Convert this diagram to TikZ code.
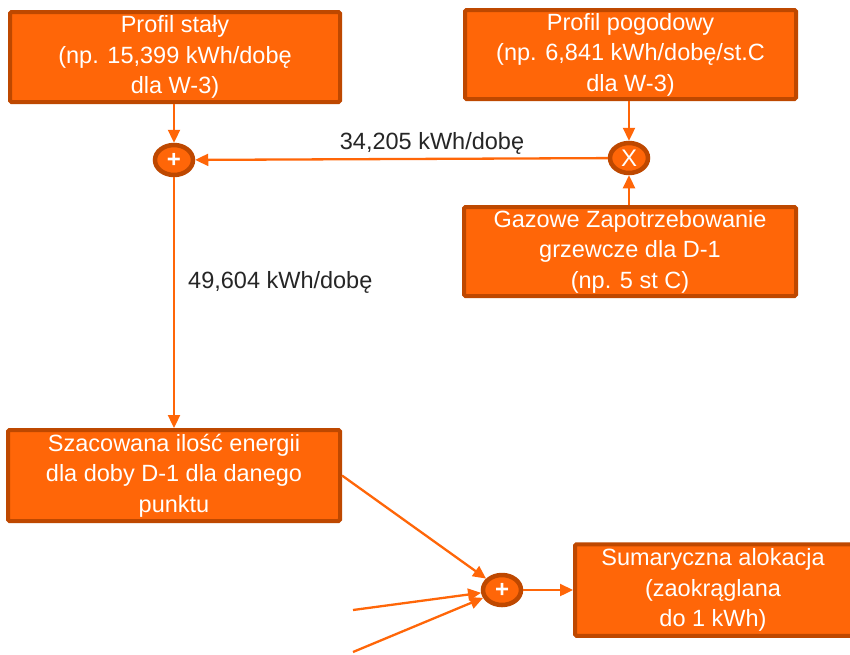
\documentclass[tikz,border=0pt]{standalone}
\usepackage{fontspec}
\setmainfont{Liberation Sans}
\usetikzlibrary{arrows.meta,shapes.geometric}
\definecolor{orfill}{RGB}{255,102,8}
\definecolor{ordark}{RGB}{190,72,0}
\definecolor{lab}{RGB}{38,38,38}
\tikzset{
  box/.style={draw=ordark, line width=4pt, fill=orfill, rounded corners=1.5pt,
    text=white, align=center, inner sep=0pt,
    font=\fontsize{23.5}{30.5}\selectfont},
  opnode/.style={ellipse, draw=ordark, line width=4.5pt, fill=orfill, text=white,
    minimum width=38pt, minimum height=30pt, inner sep=0pt,
    font=\fontsize{24}{24}\selectfont},
  conn/.style={draw=orfill, line width=2.3pt, -{Triangle[length=13pt,width=12pt]}},
  lbl/.style={text=lab, font=\fontsize{23.5}{28}\selectfont, inner sep=0pt}
}
\begin{document}
\begin{tikzpicture}[x=1pt,y=-1pt]
\useasboundingbox (0,0) rectangle (850,654);
\fill[white] (0,0) rectangle (850,654);
\node[box, minimum width=330pt, minimum height=90pt] (stal) at (175,57)
  {Profil stały\\(np. 15,399 kWh/dobę\\dla W-3)};
\node[box, minimum width=331pt, minimum height=89pt] (pogo) at (630.5,54.5)
  {Profil pogodowy\\(np. 6,841 kWh/dobę/st.C\\dla W-3)};
\node[box, minimum width=332pt, minimum height=89pt] (gaz) at (630,251.5)
  {Gazowe Zapotrzebowanie\\grzewcze dla D-1\\(np. 5 st C)};
\node[box, minimum width=332pt, minimum height=91pt] (szac) at (174,475.5)
  {Szacowana ilość energii\\dla doby D-1 dla danego\\punktu};
\node[box, minimum width=296pt, minimum height=90pt] (suma) at (723,590)
  {\hspace*{-20pt}\begin{tabular}{@{}c@{}}Sumaryczna alokacja\\(zaokrąglana\\do 1 kWh)\end{tabular}};
\node[opnode] (plus1) at (174,160) {\textbf{+}};
\node[opnode] (razy) at (629,158) {X};
\node[opnode] (plus2) at (502,590) {\textbf{+}};
\coordinate (in1) at (353,610);
\coordinate (in2) at (353,652);
\draw[conn] (stal.south -| plus1) -- (plus1);
\draw[conn] (pogo.south -| razy) -- (razy);
\draw[conn] (gaz.north -| razy) -- (razy);
\draw[conn] (razy) -- (plus1);
\draw[conn] (plus1) -- (szac.north -| plus1);
\draw[conn] (szac.east) -- (plus2);
\draw[conn] (in1) -- (plus2);
\draw[conn] (in2) -- (plus2);
\draw[conn] (plus2) -- (suma.west |- plus2);
\node[lbl] (l1) at (432,143) {34,205 kWh/dobę};
\node[lbl, anchor=west] (l2) at (188,282) {49,604 kWh/dobę};
\end{tikzpicture}
\end{document}
